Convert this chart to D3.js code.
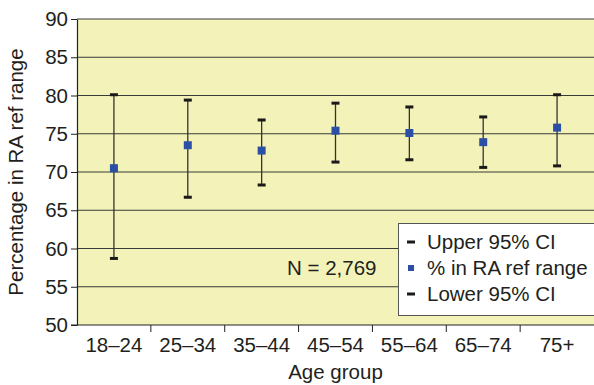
<!DOCTYPE html>
<html>
<head>
<meta charset="utf-8">
<script src="https://cdn.jsdelivr.net/npm/d3@7"></script>
<style>
  body { margin: 0; background: #fff; }
  svg { display: block; font-family: "Liberation Sans", Arial, sans-serif; }
</style>
</head>
<body>
<script>
// chart data
const ageGroups = ['18–24', '25–34', '35–44', '45–54', '55–64', '65–74', '75+'];
const pctInRange = [70.5, 73.5, 72.8, 75.4, 75.1, 73.9, 75.8];
const upperCI = [80.1, 79.4, 76.8, 79.0, 78.5, 77.2, 80.1];
const lowerCI = [58.7, 66.7, 68.3, 71.3, 71.6, 70.6, 70.8];
const yTicks = [50, 55, 60, 65, 70, 75, 80, 85, 90];
const legendLabels = ['Upper 95% CI', '% in RA ref range', 'Lower 95% CI'];

// set variables
const w = 594;
const h = 385;
const m = {top: 19, right: 0, bottom: 60, left: 77};
const txt = '#231f20';
const fs = '20.5px';

const svg = d3.select('body').append('svg')
    .attr('width', w)
    .attr('height', h);

const xScale = d3.scaleBand().domain(ageGroups).range([m.left, w - m.right]);
const yScale = d3.scaleLinear().domain([50, 90]).range([h - m.bottom, m.top]);

// plot background
svg.append('rect')
    .attr('x', m.left)
    .attr('y', m.top)
    .attr('width', w - m.right - m.left)
    .attr('height', h - m.bottom - m.top)
    .attr('fill', '#f3f3b9');

// grid lines
svg.append('g')
    .selectAll('line')
    .data(yTicks.slice(1))
    .enter()
    .append('line')
    .attr('x1', m.left)
    .attr('x2', w - m.right)
    .attr('y1', d => yScale(d))
    .attr('y2', d => yScale(d))
    .attr('stroke', '#3a3a3a')
    .attr('stroke-width', 1);

// axes
const yAxis = d3.axisLeft(yScale).tickValues(yTicks).tickSize(6).tickSizeOuter(0).tickPadding(3);
const gy = svg.append('g')
    .attr('transform', `translate(${m.left},0)`)
    .call(yAxis);
gy.select('.domain').attr('stroke', '#222').attr('stroke-width', 1.2);
gy.selectAll('.tick line').attr('stroke', '#222');
gy.selectAll('.tick text').attr('fill', txt).style('font-size', fs);

const gx = svg.append('g')
    .attr('transform', `translate(0,${h - m.bottom})`);
gx.append('line')
    .attr('x1', m.left - 6).attr('x2', w)
    .attr('stroke', '#222').attr('stroke-width', 1.2);
gx.selectAll('line.tk')
    .data(ageGroups.slice(1))
    .enter()
    .append('line')
    .attr('class', 'tk')
    .attr('x1', d => xScale(d))
    .attr('x2', d => xScale(d))
    .attr('y1', 0).attr('y2', 7)
    .attr('stroke', '#222');
gx.selectAll('text')
    .data(ageGroups)
    .enter()
    .append('text')
    .attr('x', d => xScale(d) + xScale.bandwidth() / 2)
    .attr('y', 26.5)
    .attr('text-anchor', 'middle')
    .attr('fill', txt)
    .style('font-size', fs)
    .text(d => d);

// error bars
const cx = d => xScale(d) + xScale.bandwidth() / 2;
const bars = svg.append('g')
    .selectAll('g')
    .data(ageGroups)
    .enter()
    .append('g');
bars.append('line')
    .attr('x1', cx).attr('x2', cx)
    .attr('y1', (d, i) => yScale(upperCI[i]))
    .attr('y2', (d, i) => yScale(lowerCI[i]))
    .attr('stroke', '#333')
    .attr('stroke-width', 1.3);
bars.append('rect')
    .attr('x', d => cx(d) - 4)
    .attr('y', (d, i) => yScale(upperCI[i]) - 1.5)
    .attr('width', 8).attr('height', 3)
    .attr('fill', '#1a1a1a');
bars.append('rect')
    .attr('x', d => cx(d) - 4)
    .attr('y', (d, i) => yScale(lowerCI[i]) - 1.5)
    .attr('width', 8).attr('height', 3)
    .attr('fill', '#1a1a1a');
bars.append('rect')
    .attr('x', d => cx(d) - 4)
    .attr('y', (d, i) => yScale(pctInRange[i]) - 4)
    .attr('width', 8).attr('height', 8)
    .attr('fill', '#2b4fa5');

// annotation
svg.append('text')
    .attr('x', 287)
    .attr('y', 275)
    .attr('fill', txt)
    .style('font-size', fs)
    .text('N = 2,769');

// legend
const lg = svg.append('g').attr('transform', 'translate(398,223)');
lg.append('rect')
    .attr('x', 0.5).attr('y', 0.5)
    .attr('width', w - 398).attr('height', 92)
    .attr('fill', '#fff')
    .attr('stroke', '#555');
legendLabels.forEach((t, i) => {
    const y = 19 + i * 26;
    if (i === 1) {
        lg.append('rect').attr('x', 10).attr('y', y - 3).attr('width', 6).attr('height', 6).attr('fill', '#2b4fa5');
    } else {
        lg.append('rect').attr('x', 9).attr('y', y - 1.5).attr('width', 8).attr('height', 3).attr('fill', '#1a1a1a');
    }
    lg.append('text')
        .attr('x', 29)
        .attr('y', y + 7)
        .attr('fill', txt)
        .style('font-size', fs)
        .text(t);
});

// axis titles
svg.append('text')
    .attr('transform', `translate(23,${(m.top + h - m.bottom) / 2}) rotate(-90)`)
    .attr('text-anchor', 'middle')
    .attr('fill', txt)
    .style('font-size', fs)
    .text('Percentage in RA ref range');

svg.append('text')
    .attr('x', (m.left + w) / 2)
    .attr('y', 379)
    .attr('text-anchor', 'middle')
    .attr('fill', txt)
    .style('font-size', fs)
    .text('Age group');
</script>
</body>
</html>
